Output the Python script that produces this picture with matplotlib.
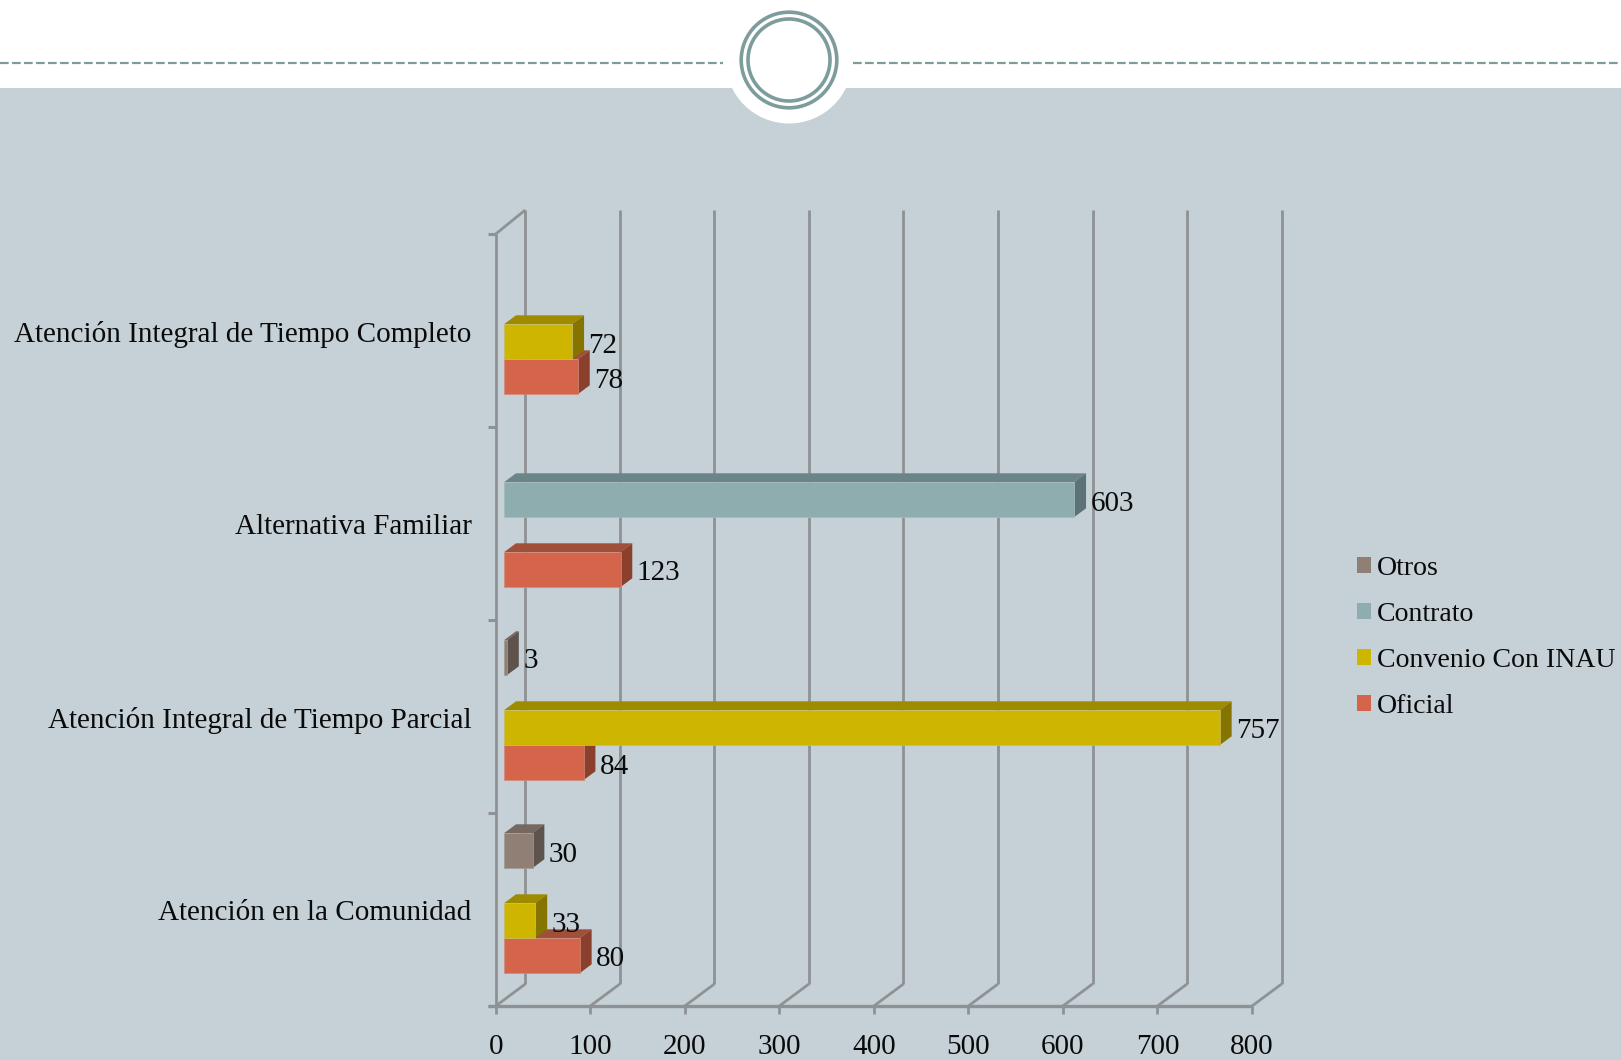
import matplotlib
matplotlib.use("Agg")
import matplotlib.pyplot as plt
from matplotlib.patches import Polygon, Circle, Rectangle, Patch

categories = ["Atención en la Comunidad", "Atención Integral de Tiempo Parcial",
              "Alternativa Familiar", "Atención Integral de Tiempo Completo"]
series_names = ["Oficial", "Convenio Con INAU", "Contrato", "Otros"]
oficial = [80, 84, 123, 78]
convenio = [33, 757, None, 72]
contrato = [None, None, 603, None]
otros = [30, 3, None, None]
series_values = [oficial, convenio, contrato, otros]
x_ticks = [0, 100, 200, 300, 400, 500, 600, 700, 800]
face = ["#d5654a", "#cdb500", "#8dadaf", "#8f7f74"]
side = ["#8a402c", "#857500", "#5c7275", "#5f544d"]
top = ["#a04f38", "#9e8b00", "#6a8487", "#75685f"]
edge = ["#d08a78", "#c9bd60", "#a5bcbe", "#a39a93"]

W, H = 1621, 1060
BG = "#c5d1d7"
GRID = "#8f9294"
TXT = "#0a0a0a"
FONT = "Liberation Serif"
FS = 21
plt.rcParams["font.family"] = FONT

fig = plt.figure(figsize=(W / 100, H / 100), dpi=100, facecolor=BG)

# page decoration, in pixel coordinates
bgax = fig.add_axes([0, 0, 1, 1], zorder=0)
bgax.set_xlim(0, W)
bgax.set_ylim(H, 0)
bgax.axis("off")
bgax.add_patch(Rectangle((0, 0), W, 88, fc="white", ec="none"))
bgax.add_patch(Circle((789, 60), 63.5, fc="white", ec="none"))
bgax.add_patch(Circle((789, 60), 47.8, fc="none", ec="#7d9c9c", lw=2.6))
bgax.add_patch(Circle((789, 60), 41, fc="none", ec="#7d9c9c", lw=2.6))
for x0, x1 in [(0, 723), (853, W)]:
    bgax.plot([x0, x1], [62.7, 62.7], color="#7d9c9c", lw=1.6,
              dashes=(3.9, 1.5), dash_capstyle="butt")

# chart axes: the front plane of the 3D box
L, R, T, B = 495.7, 1252.0, 234.0, 1006.0
ax = fig.add_axes([L / W, 1 - B / H, (R - L) / W, (B - T) / H], zorder=1)
ax.set_xlim(0, 800)
ax.set_ylim(0, 4)
ax.patch.set_alpha(0)
for s in ax.spines.values():
    s.set_visible(False)
ax.set_yticks([])
ax.set_xticks([])

ux = (R - L) / 800   # px per value
uy = (B - T) / 4     # px per category band
wall_dx, wall_dy = 29.6 / ux, 22 / uy
top_ext = 2 / uy
bar_dx, bar_dy = 11.7 / ux, 8.7 / uy
bar_x0 = 8.6 / ux
bar_h = 35 / uy
bar_base = 33 / uy

kw = dict(color=GRID, solid_capstyle="butt", clip_on=False)
for v in x_ticks:
    ax.plot([v + wall_dx] * 2, [wall_dy, 4 + wall_dy + top_ext], lw=2.0, zorder=1, **kw)
    ax.plot([v, v + wall_dx], [0, wall_dy], lw=2.0, zorder=1, **kw)
    ax.plot([v, v], [0, -8 / uy], lw=2.0, zorder=1, **kw)
    ax.text(v, -48.5 / uy, str(v), ha="center", va="baseline", fontsize=FS, color=TXT)
ax.plot([0, wall_dx], [4, 4 + wall_dy + top_ext], lw=2.0, zorder=1, **kw)
ax.plot([0, 0], [0, 4], lw=2.0, zorder=1, **kw)
ax.plot([-8 / ux, 800], [0, 0], lw=2.4, zorder=1, **kw)
for i in range(5):
    ax.plot([-8 / ux, 0], [i, i], lw=2.2, zorder=1, **kw)
for i, c in enumerate(categories):
    ax.text(-24 / ux, i + 0.5 - 3.5 / uy, c, ha="right", va="center", fontsize=FS, color=TXT)

# bars, painted series by series
for s, vals in enumerate(series_values):
    for i, v in enumerate(vals):
        if v is None:
            continue
        y0 = i + bar_base + s * bar_h
        x0, x1 = bar_x0, bar_x0 + v
        y1 = y0 + bar_h
        z = 3 + s + (4 - i) * 0.01
        ax.add_patch(Polygon([(x0, y1), (x1, y1), (x1 + bar_dx, y1 + bar_dy), (x0 + bar_dx, y1 + bar_dy)],
                             fc=top[s], ec="none", zorder=z, clip_on=False))
        ax.add_patch(Polygon([(x1, y0), (x1 + bar_dx, y0 + bar_dy), (x1 + bar_dx, y1 + bar_dy), (x1, y1)],
                             fc=side[s], ec="none", zorder=z, clip_on=False))
        ax.barh(y0, v, height=bar_h, left=x0, align="edge", color=face[s],
                edgecolor=edge[s], linewidth=0.5, zorder=z)
        ax.text(x1 + bar_dx + 4.5 / ux, y0 + bar_h / 2 - 4 / uy, str(v), ha="left", va="center",
                fontsize=FS, color=TXT, zorder=20, clip_on=False)

handles = [Patch(fc=face[i], ec="none", label=series_names[i]) for i in (3, 2, 1, 0)]
fig.legend(handles=handles, loc="center left", bbox_to_anchor=(1357 / W, 1 - 637.5 / H),
           frameon=False, fontsize=20.1, handlelength=0.5, handleheight=0.5,
           handletextpad=0.215, labelspacing=0.76, borderpad=0, borderaxespad=0,
           labelcolor=TXT)

fig.savefig("out.png", dpi=100, facecolor=BG)
